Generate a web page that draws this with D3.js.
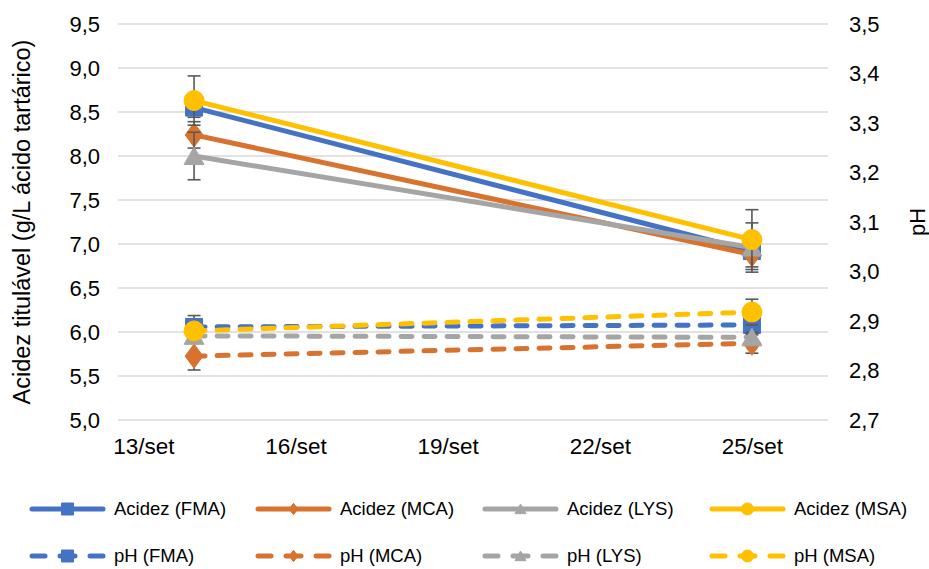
<!DOCTYPE html>
<html><head><meta charset="utf-8">
<script src="https://cdn.jsdelivr.net/npm/d3@7"></script>
<style>body{margin:0;background:#fff}svg{display:block}text{font-family:"Liberation Sans",Arial,sans-serif;fill:#000}</style>
</head><body><svg id="c" width="929" height="569"></svg>
<script>
// ---- data ----
const dates = [14, 25]; // day of September
const xTickDays = [13, 16, 19, 22, 25];
const xTickLabels = ["13/set", "16/set", "19/set", "22/set", "25/set"];
const leftTicks = [5.0, 5.5, 6.0, 6.5, 7.0, 7.5, 8.0, 8.5, 9.0, 9.5];
const rightTicks = [2.7, 2.8, 2.9, 3.0, 3.1, 3.2, 3.3, 3.4, 3.5];
const samples = ["FMA", "MCA", "LYS", "MSA"];
const acidFMA = [8.55, 6.92], acidFMAerr = [0.11, 0.05];
const acidMCA = [8.24, 6.88], acidMCAerr = [0.15, 0.14];
const acidLYS = [8.00, 6.96], acidLYSerr = [0.27, 0.28];
const acidMSA = [8.63, 7.05], acidMSAerr = [0.28, 0.34];
const phFMA = [2.888, 2.892], phFMAerr = [0.023, 0.02];
const phMCA = [2.829, 2.855], phMCAerr = [0.028, 0.02];
const phLYS = [2.870, 2.867], phLYSerr = [0.01, 0.01];
const phMSA = [2.880, 2.918], phMSAerr = [0.015, 0.026];

const colors = ["#4472C4", "#D7722F", "#A5A5A5", "#FFC000"];
const markers = ["square", "diamond", "triangle", "circle"];

const series = [
  {name: "Acidez (FMA)", v: acidFMA, e: acidFMAerr, axis: "L", i: 0},
  {name: "Acidez (MCA)", v: acidMCA, e: acidMCAerr, axis: "L", i: 1},
  {name: "Acidez (LYS)", v: acidLYS, e: acidLYSerr, axis: "L", i: 2},
  {name: "Acidez (MSA)", v: acidMSA, e: acidMSAerr, axis: "L", i: 3},
  {name: "pH (FMA)", v: phFMA, e: phFMAerr, axis: "R", i: 0},
  {name: "pH (MCA)", v: phMCA, e: phMCAerr, axis: "R", i: 1},
  {name: "pH (LYS)", v: phLYS, e: phLYSerr, axis: "R", i: 2},
  {name: "pH (MSA)", v: phMSA, e: phMSAerr, axis: "R", i: 3}
];

const svg = d3.select("#c");
const x = d3.scaleLinear().domain([12.5, 26.5]).range([118, 828]);
const yL = d3.scaleLinear().domain([5, 9.5]).range([420, 24]);
const yR = d3.scaleLinear().domain([2.7, 3.5]).range([420, 24]);
const fmt = d => d3.format(".1f")(d).replace(".", ",");

// gridlines
svg.append("g").selectAll("line").data(leftTicks).join("line")
  .attr("x1", x.range()[0]).attr("x2", x.range()[1])
  .attr("y1", d => yL(d)).attr("y2", d => yL(d))
  .attr("stroke", "#D9D9D9").attr("stroke-width", 1.3);

// left axis
const gL = svg.append("g").attr("transform", `translate(${x.range()[0]},0)`)
  .call(d3.axisLeft(yL).tickValues(leftTicks).tickFormat(fmt).tickSize(0).tickPadding(18));
gL.select(".domain").remove();
gL.selectAll("text").attr("font-size", 22).attr("font-family", "Liberation Sans, Arial").attr("fill", "#000");

// right axis
const gR = svg.append("g").attr("transform", `translate(${x.range()[1]},0)`)
  .call(d3.axisRight(yR).tickValues(rightTicks).tickFormat(fmt).tickSize(0).tickPadding(21));
gR.select(".domain").remove();
gR.selectAll("text").attr("font-size", 22).attr("font-family", "Liberation Sans, Arial").attr("fill", "#000");

// x axis
const gX = svg.append("g").attr("transform", `translate(0,${yL(5)})`)
  .call(d3.axisBottom(x).tickValues(xTickDays).tickFormat((d, i) => xTickLabels[i]).tickSize(0).tickPadding(18));
gX.select(".domain").remove();
gX.selectAll("text").attr("font-size", 22.5).attr("font-family", "Liberation Sans, Arial").attr("fill", "#000");

// axis titles
svg.append("text").attr("transform", "translate(30,222) rotate(-90)")
  .attr("text-anchor", "middle").attr("font-size", 23.5).text("Acidez titulável (g/L ácido tartárico)");
svg.append("text").attr("transform", "translate(925,222) rotate(-90)")
  .attr("text-anchor", "middle").attr("font-size", 22).text("pH");

function markerPath(type, s) {
  const h = s / 2;
  if (type === "square") return `M${-h},${-h}H${h}V${h}H${-h}Z`;
  if (type === "diamond") return `M0,${-h * 1.15}L${h * 0.85},0L0,${h * 1.15}L${-h * 0.85},0Z`;
  if (type === "triangle") return `M0,${-h * 0.9}L${h},${h * 0.85}L${-h},${h * 0.85}Z`;
  return d3.arc()({innerRadius: 0, outerRadius: h, startAngle: 0, endAngle: 2 * Math.PI});
}
const markerSize = [17, 21, 20, 20];

const plot = svg.append("g");
series.forEach(s => {
  const y = s.axis === "L" ? yL : yR;
  const c = colors[s.i];
  const pts = dates.map((d, k) => [x(d), y(s.v[k])]);
  const g = plot.append("g");
  g.append("path").attr("d", d3.line()(pts)).attr("fill", "none").attr("stroke", c)
    .attr("stroke-width", 5).attr("stroke-linecap", "round")
    .attr("stroke-dasharray", s.axis === "R" ? "11,12" : null);
  dates.forEach((d, k) => {
    const cx = x(d), y1 = y(s.v[k] + s.e[k]), y2 = y(s.v[k] - s.e[k]);
    g.append("line").attr("x1", cx).attr("x2", cx).attr("y1", y1).attr("y2", y2)
      .attr("stroke", "#595959").attr("stroke-width", 1.6);
    [y1, y2].forEach(yy => g.append("line").attr("x1", cx - 6.5).attr("x2", cx + 6.5)
      .attr("y1", yy).attr("y2", yy).attr("stroke", "#595959").attr("stroke-width", 1.6));
  });
  g.selectAll("path.m").data(pts).join("path").attr("class", "m")
    .attr("transform", p => `translate(${p[0]},${p[1]})`)
    .attr("d", markerPath(markers[s.i], markerSize[s.i])).attr("fill", c).attr("stroke", c);
});

// legend
const legX = [32, 258, 485, 712];
const legY = [509, 556];
const legMarkerSize = [12, 10, 11, 12];
series.forEach((s, j) => {
  const col = j % 4, row = Math.floor(j / 4);
  const x0 = legX[col], yy = legY[row], c = colors[s.i];
  const g = svg.append("g");
  if (s.axis === "L") {
    g.append("line").attr("x1", x0).attr("x2", x0 + 71).attr("y1", yy).attr("y2", yy)
      .attr("stroke", c).attr("stroke-width", 5).attr("stroke-linecap", "round");
  } else {
    [[x0, x0 + 13], [x0 + 28, x0 + 43], [x0 + 58, x0 + 71]].forEach(seg => g.append("line")
      .attr("x1", seg[0]).attr("x2", seg[1]).attr("y1", yy).attr("y2", yy)
      .attr("stroke", c).attr("stroke-width", 5).attr("stroke-linecap", "round"));
  }
  g.append("path").attr("transform", `translate(${x0 + 35.5},${yy})`)
    .attr("d", markerPath(markers[s.i], legMarkerSize[s.i])).attr("fill", c).attr("stroke", c);
  g.append("text").attr("x", x0 + 82).attr("y", yy).attr("dy", "0.35em")
    .attr("font-size", 18.5).text(s.name);
});
</script></body></html>
